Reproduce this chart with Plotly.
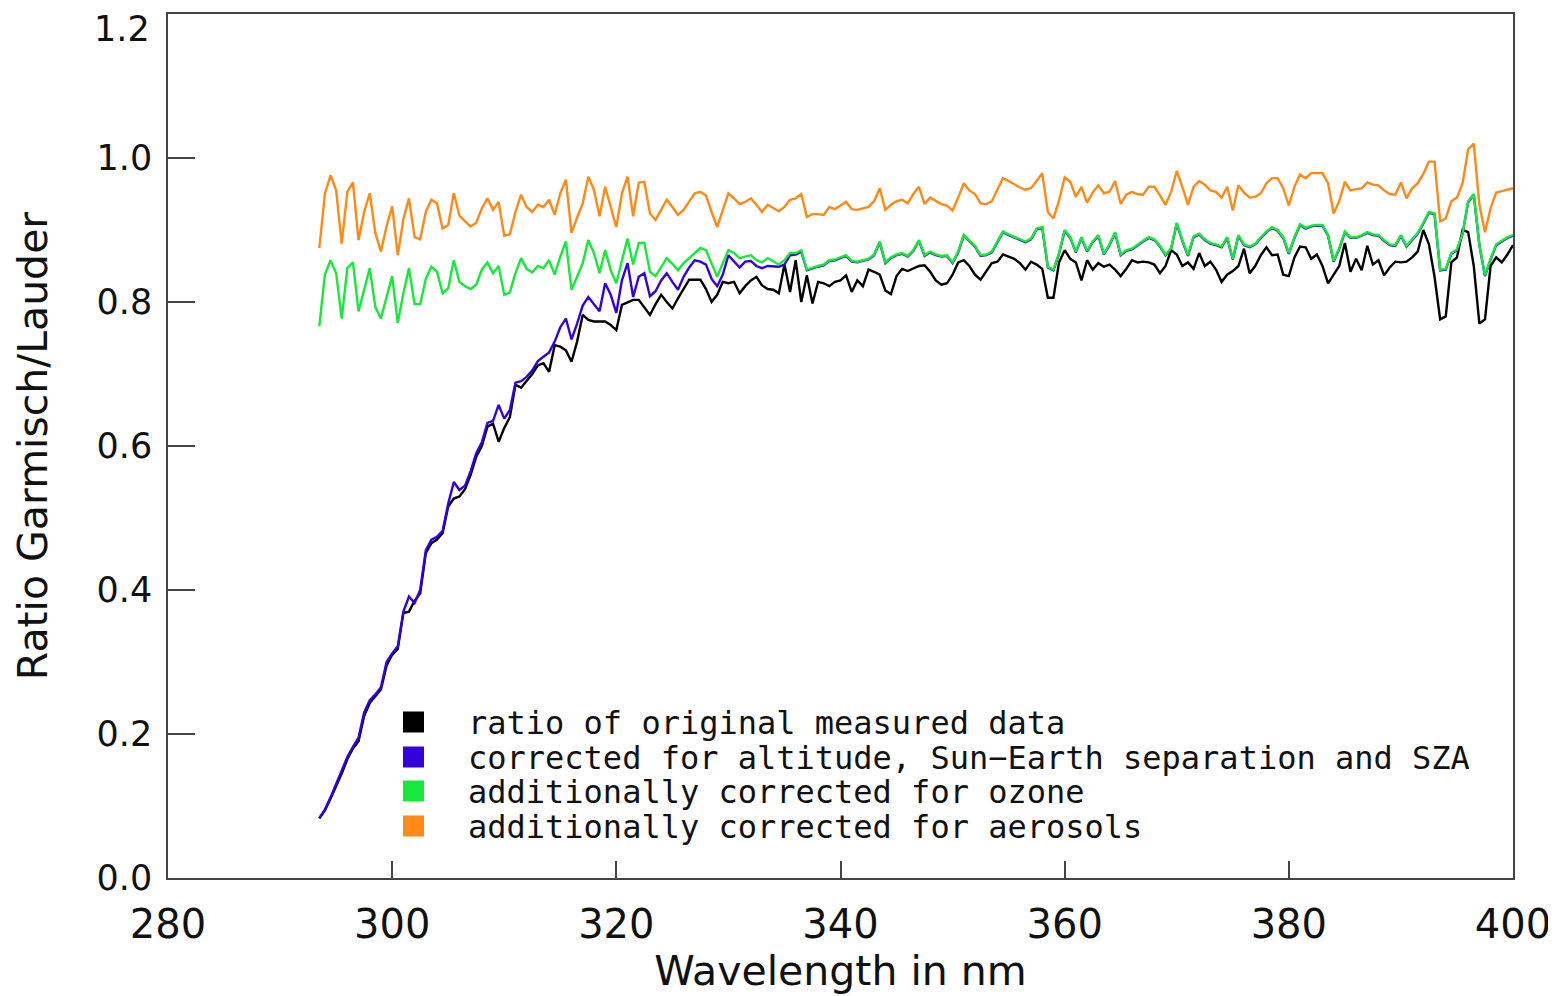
import plotly.graph_objects as go

# Sampling grid of the spectra (nm), 0.5 nm steps from 293.5 to 400 nm
wavelength = [293.5 + 0.5 * i for i in range(214)]

ratio_original = [
    0.083, 0.094, 0.110, 0.127, 0.145, 0.165, 0.180, 0.190, 0.225, 0.243,
    0.252, 0.262, 0.295, 0.310, 0.318, 0.368, 0.370, 0.385, 0.395, 0.451,
    0.465, 0.470, 0.479, 0.516, 0.527, 0.530, 0.540, 0.560, 0.585, 0.600,
    0.627, 0.631, 0.606, 0.625, 0.640, 0.685, 0.681, 0.690, 0.700, 0.712,
    0.715, 0.703, 0.740,
    0.738, 0.733, 0.717, 0.745, 0.782, 0.775, 0.773, 0.773, 0.773, 0.768,
    0.761, 0.796, 0.800, 0.803, 0.803, 0.792, 0.782, 0.797, 0.810, 0.800,
    0.791, 0.805, 0.818, 0.831, 0.831, 0.831, 0.818, 0.800, 0.810, 0.828,
    0.826, 0.828, 0.812, 0.822, 0.830, 0.835, 0.823, 0.818, 0.817, 0.812,
    0.852, 0.814,
    0.858, 0.800, 0.837, 0.798, 0.828, 0.826, 0.822, 0.828, 0.830, 0.837,
    0.814, 0.830, 0.822, 0.845, 0.842, 0.838, 0.816, 0.811, 0.836, 0.846,
    0.843, 0.846, 0.850, 0.851, 0.842, 0.830, 0.824, 0.826, 0.838, 0.855,
    0.858, 0.850, 0.838, 0.831, 0.842, 0.854, 0.856, 0.866, 0.863, 0.860,
    0.854, 0.845, 0.856, 0.852,
    0.846, 0.806, 0.806, 0.855, 0.872, 0.860, 0.855, 0.830, 0.858, 0.845,
    0.854, 0.849, 0.852, 0.845, 0.836, 0.846, 0.858, 0.855, 0.856, 0.855,
    0.852, 0.840, 0.850, 0.872, 0.866, 0.850, 0.855, 0.846, 0.868, 0.850,
    0.856, 0.845, 0.828, 0.838, 0.843, 0.850, 0.874, 0.840, 0.850, 0.865,
    0.876, 0.865,
    0.866, 0.838, 0.836, 0.862, 0.877, 0.876, 0.860, 0.866, 0.850, 0.826,
    0.838, 0.850, 0.882, 0.842, 0.860, 0.844, 0.878, 0.852, 0.858, 0.837,
    0.848, 0.856, 0.855, 0.856, 0.862, 0.870, 0.900, 0.880, 0.835, 0.776,
    0.780, 0.855, 0.862, 0.900, 0.897, 0.850, 0.770, 0.776, 0.850, 0.862,
    0.855, 0.866, 0.879,
]

corrected_altitude = [
    0.083, 0.095, 0.112, 0.130, 0.148, 0.168, 0.182, 0.195, 0.230, 0.247,
    0.255, 0.265, 0.300, 0.312, 0.322, 0.370, 0.391, 0.382, 0.400, 0.455,
    0.470, 0.474, 0.482, 0.520, 0.550, 0.539, 0.545, 0.565, 0.590, 0.605,
    0.632, 0.635, 0.657, 0.638, 0.650, 0.688, 0.690, 0.696, 0.705, 0.718,
    0.724, 0.730, 0.745,
    0.765, 0.777, 0.748, 0.770, 0.795, 0.807, 0.797, 0.787, 0.826, 0.810,
    0.785, 0.830, 0.854, 0.807, 0.835, 0.840, 0.808, 0.815, 0.830, 0.840,
    0.828, 0.817, 0.835, 0.848, 0.858, 0.856, 0.852, 0.832, 0.822, 0.838,
    0.865, 0.856, 0.848, 0.856, 0.857, 0.850, 0.847, 0.850, 0.849, 0.849,
    0.852, 0.865,
    0.866, 0.870, 0.844, 0.847, 0.849, 0.851, 0.857, 0.858, 0.861, 0.864,
    0.856, 0.855, 0.857, 0.859, 0.865, 0.883, 0.854, 0.861, 0.865, 0.867,
    0.863, 0.871, 0.885, 0.864, 0.869, 0.865, 0.863, 0.864, 0.854, 0.869,
    0.892, 0.884, 0.877, 0.864, 0.865, 0.869, 0.884, 0.897, 0.893, 0.890,
    0.886, 0.883, 0.887, 0.901,
    0.903, 0.848, 0.844, 0.867, 0.899, 0.889, 0.869, 0.889, 0.870, 0.883,
    0.892, 0.866, 0.879, 0.896, 0.865, 0.871, 0.873, 0.879, 0.884, 0.889,
    0.886, 0.877, 0.865, 0.874, 0.909, 0.885, 0.864, 0.890, 0.894, 0.886,
    0.881, 0.879, 0.876, 0.889, 0.859, 0.892, 0.879, 0.876, 0.880, 0.889,
    0.897, 0.903,
    0.899, 0.889, 0.867, 0.889, 0.907, 0.902, 0.905, 0.906, 0.906, 0.892,
    0.856, 0.874, 0.897, 0.889, 0.889, 0.892, 0.896, 0.893, 0.892, 0.885,
    0.879, 0.878, 0.892, 0.877, 0.886, 0.895, 0.909, 0.924, 0.922, 0.844,
    0.845, 0.867, 0.872, 0.894, 0.939, 0.949, 0.879, 0.836, 0.859, 0.879,
    0.884, 0.889, 0.892,
]

corrected_ozone = [
    0.766, 0.838, 0.858, 0.840, 0.777, 0.847, 0.855, 0.787, 0.817, 0.847,
    0.793, 0.777, 0.807, 0.836, 0.771, 0.812, 0.847, 0.797, 0.797, 0.832,
    0.849, 0.842, 0.812, 0.819, 0.858, 0.828, 0.822, 0.818, 0.824, 0.845,
    0.855, 0.840, 0.850, 0.810, 0.813, 0.840, 0.861, 0.846, 0.841, 0.850,
    0.847, 0.858, 0.838,
    0.863, 0.884, 0.817, 0.835, 0.854, 0.886, 0.868, 0.840, 0.872, 0.844,
    0.826, 0.858, 0.888, 0.852, 0.882, 0.882, 0.842, 0.836, 0.849, 0.861,
    0.853, 0.844, 0.854, 0.861, 0.868, 0.875, 0.872, 0.854, 0.835, 0.854,
    0.872, 0.868, 0.861, 0.863, 0.865, 0.858, 0.855, 0.861, 0.856, 0.852,
    0.858, 0.868,
    0.868, 0.872, 0.845, 0.848, 0.850, 0.852, 0.858, 0.859, 0.862, 0.865,
    0.857, 0.856, 0.858, 0.860, 0.866, 0.884, 0.855, 0.862, 0.866, 0.868,
    0.864, 0.872, 0.886, 0.865, 0.870, 0.866, 0.864, 0.865, 0.855, 0.870,
    0.893, 0.885, 0.878, 0.865, 0.866, 0.870, 0.885, 0.898, 0.894, 0.891,
    0.887, 0.884, 0.888, 0.902,
    0.904, 0.849, 0.845, 0.868, 0.900, 0.890, 0.870, 0.890, 0.871, 0.884,
    0.893, 0.867, 0.880, 0.897, 0.866, 0.872, 0.874, 0.880, 0.885, 0.890,
    0.887, 0.878, 0.866, 0.875, 0.910, 0.886, 0.865, 0.891, 0.895, 0.887,
    0.882, 0.880, 0.877, 0.890, 0.860, 0.893, 0.880, 0.877, 0.881, 0.890,
    0.898, 0.904,
    0.900, 0.890, 0.868, 0.890, 0.908, 0.903, 0.906, 0.907, 0.907, 0.893,
    0.857, 0.875, 0.898, 0.890, 0.890, 0.893, 0.897, 0.894, 0.893, 0.886,
    0.880, 0.879, 0.893, 0.878, 0.887, 0.896, 0.910, 0.925, 0.923, 0.845,
    0.846, 0.868, 0.873, 0.895, 0.940, 0.950, 0.880, 0.837, 0.860, 0.880,
    0.885, 0.890, 0.893,
]

corrected_aerosols = [
    0.875, 0.950, 0.976, 0.955, 0.881, 0.953, 0.966, 0.886, 0.925, 0.951,
    0.896, 0.870, 0.905, 0.933, 0.865, 0.915, 0.944, 0.890, 0.887, 0.925,
    0.942, 0.937, 0.902, 0.907, 0.951, 0.920, 0.912, 0.905, 0.910, 0.930,
    0.944, 0.928, 0.939, 0.892, 0.894, 0.925, 0.949, 0.932, 0.925, 0.935,
    0.932, 0.942, 0.921,
    0.951, 0.970, 0.896, 0.917, 0.937, 0.974, 0.956, 0.919, 0.960, 0.932,
    0.904, 0.951, 0.974, 0.919, 0.966, 0.967, 0.923, 0.914, 0.928, 0.942,
    0.932, 0.921, 0.928, 0.939, 0.951, 0.953, 0.948, 0.925, 0.904, 0.928,
    0.951, 0.944, 0.936, 0.939, 0.944, 0.935, 0.925, 0.935, 0.930, 0.926,
    0.932, 0.942,
    0.944, 0.950, 0.918, 0.922, 0.922, 0.921, 0.932, 0.929, 0.934, 0.939,
    0.929, 0.928, 0.930, 0.932, 0.940, 0.958, 0.928, 0.935, 0.940, 0.942,
    0.937, 0.950, 0.960, 0.936, 0.945, 0.940, 0.936, 0.934, 0.927, 0.945,
    0.965, 0.955, 0.950, 0.937, 0.936, 0.940, 0.955, 0.972, 0.968, 0.963,
    0.959, 0.956, 0.958, 0.968,
    0.979, 0.925, 0.916, 0.941, 0.973, 0.967, 0.946, 0.960, 0.938, 0.952,
    0.962, 0.951, 0.953, 0.968, 0.936, 0.949, 0.953, 0.950, 0.949, 0.960,
    0.960, 0.948, 0.935, 0.953, 0.982, 0.960, 0.935, 0.960, 0.968, 0.963,
    0.955, 0.953, 0.945, 0.960, 0.927, 0.962, 0.952, 0.945, 0.946, 0.951,
    0.965, 0.972,
    0.972, 0.958, 0.934, 0.960, 0.977, 0.972, 0.979, 0.979, 0.979, 0.965,
    0.923, 0.940, 0.967, 0.955, 0.956, 0.958, 0.966, 0.963, 0.962, 0.955,
    0.950, 0.949, 0.966, 0.944, 0.958, 0.965, 0.978, 0.995, 0.995, 0.912,
    0.916, 0.940, 0.945, 0.965, 1.012, 1.020, 0.935, 0.897, 0.930, 0.952,
    0.954, 0.956, 0.958,
]

series_names = [
    "ratio of original measured data",
    "corrected for altitude, Sun\u2212Earth separation and SZA",
    "additionally corrected for ozone",
    "additionally corrected for aerosols",
]
series_colors = ["#000000", "#3300dd", "#18e83a", "#ff8a18"]
series_values = [ratio_original, corrected_altitude, corrected_ozone, corrected_aerosols]

x_ticks = [280, 300, 320, 340, 360, 380, 400]
y_ticks = [0.0, 0.2, 0.4, 0.6, 0.8, 1.0]
y_tick_labels = ["0.0", "0.2", "0.4", "0.6", "0.8", "1.0"]
y_top_label = "1.2"          # top tick label, drawn just inside the frame as in the original

FONT = "DejaVu Sans"
LEGEND_FONT = "DejaVu Sans Mono"
PAGE_OFFSET = 8            # default body margin of the html page
W, H = 1548, 988
L, R, T, B = 160, 43, 6, 118
PW, PH = W - L - R, H - T - B

fig = go.Figure()
for name, color, vals in zip(series_names, series_colors, series_values):
    fig.add_trace(go.Scatter(x=wavelength, y=vals, mode="lines", name=name,
                             line=dict(color=color, width=2.4), showlegend=False))

# legend drawn as coloured squares + text rows (page pixel layout of the original)
row_centers = [722, 757, 791, 826]


def px2paper_x(px):
    return (px - PAGE_OFFSET - L) / PW


def px2paper_y(py):
    return (H - B - (py - PAGE_OFFSET)) / PH


for name, color, yc in zip(series_names, series_colors, row_centers):
    fig.add_shape(type="rect", xref="paper", yref="paper",
                  x0=px2paper_x(403), x1=px2paper_x(424),
                  y0=px2paper_y(yc + 10.5), y1=px2paper_y(yc - 10.5),
                  fillcolor=color, line=dict(width=0))
    fig.add_annotation(xref="paper", yref="paper", x=px2paper_x(466), y=px2paper_y(yc + 1),
                       xanchor="left", yanchor="middle", text=name, showarrow=False,
                       font=dict(family=LEGEND_FONT, size=32, color="#111111"))

# top y tick label (the original keeps it inside the figure, below the frame corner)
fig.add_annotation(xref="paper", yref="paper", x=px2paper_x(152), y=px2paper_y(29),
                   xanchor="right", yanchor="middle", text=y_top_label, showarrow=False,
                   font=dict(family=FONT, size=35, color="#111111"))

axis_common = dict(showline=True, linecolor="#444444", linewidth=1.5, mirror=True,
                   ticks="inside", tickcolor="#444444", tickwidth=1.5,
                   showgrid=False, zeroline=False, automargin=False)

fig.update_xaxes(range=[280, 400], tickvals=x_ticks, ticklen=17, ticklabelstandoff=10,
                 tickfont=dict(family=FONT, size=40, color="#111111"),
                 title=dict(text="Wavelength in nm", font=dict(family=FONT, size=41, color="#111111"),
                            standoff=8),
                 **axis_common)
fig.update_yaxes(range=[0, 1.2], tickvals=y_ticks, ticktext=y_tick_labels, ticklen=27,
                 ticklabelstandoff=7,
                 tickfont=dict(family=FONT, size=35, color="#111111"),
                 title=dict(text="Ratio Garmisch/Lauder", font=dict(family=FONT, size=41, color="#111111"),
                            standoff=36),
                 **axis_common)

fig.update_layout(width=W, height=H, margin=dict(l=L, r=R, t=T, b=B, autoexpand=False),
                  plot_bgcolor="white", paper_bgcolor="white", showlegend=False)

fig.write_html("out.html")
